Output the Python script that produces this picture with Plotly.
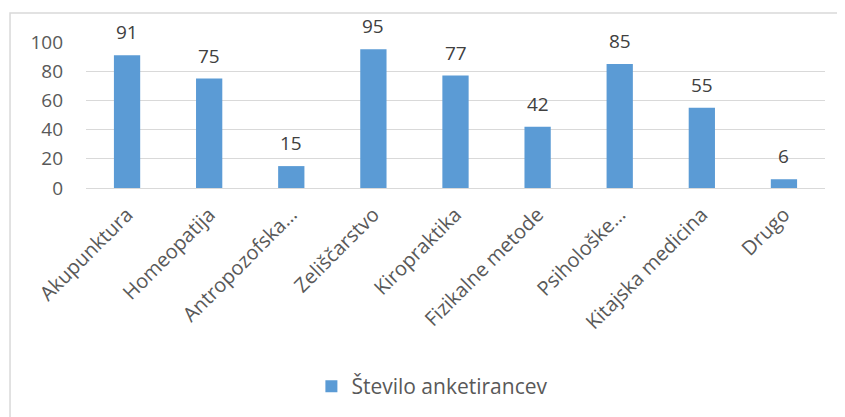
import plotly.graph_objects as go

categories = ["Akupunktura", "Homeopatija", "Antropozofska…", "Zeliščarstvo",
              "Kiropraktika", "Fizikalne metode", "Psihološke…",
              "Kitajska medicina", "Drugo"]
values = [91, 75, 15, 95, 77, 42, 85, 55, 6]
series_name = "Število anketirancev"

FONT = "'Open Sans', sans-serif"

fig = go.Figure(go.Bar(
    x=categories,
    y=values,
    name=series_name,
    marker=dict(color="#5b9bd5", line=dict(width=0)),
    showlegend=True,
))

# data labels, floating above each bar like in Excel
for cat, val in zip(categories, values):
    fig.add_annotation(
        x=cat, y=val, text=str(val), showarrow=False,
        yanchor="bottom", yshift=8,
        font=dict(family=FONT, size=19, color="#404040"),
    )

# the page body adds 8px, so margins are shifted by that
fig.update_layout(
    width=845, height=417,
    margin=dict(l=78, r=28, t=34, b=237, autoexpand=False),
    paper_bgcolor="white",
    plot_bgcolor="white",
    bargap=0.68,
    font=dict(family=FONT, size=19, color="#595959"),
    xaxis=dict(
        tickangle=-45,
        automargin=False,
        showgrid=False,
        showline=False,
        ticks="",
        ticklabelstandoff=10,
        tickfont=dict(family=FONT, size=20, color="#595959"),
    ),
    yaxis=dict(
        range=[0, 100],
        dtick=20,
        automargin=False,
        showgrid=True,
        gridcolor="#d9d9d9",
        gridwidth=1,
        zeroline=True,
        zerolinecolor="#d9d9d9",
        zerolinewidth=1,
        ticklabelstandoff=22,
        tickfont=dict(family=FONT, size=19, color="#595959"),
    ),
    legend=dict(
        orientation="h",
        x=0.305, xanchor="left",
        y=-1.36, yanchor="middle",
        font=dict(family=FONT, size=21, color="#595959"),
        itemwidth=30,
    ),
    shapes=[dict(
        type="rect", xref="paper", yref="paper",
        x0=-0.1028, x1=1.05, y0=-1.7, y1=1.1986,
        line=dict(color="#d9d9d9", width=1.5),
        fillcolor="rgba(0,0,0,0)",
        layer="below",
    )],
)

fig.write_html("out.html")
